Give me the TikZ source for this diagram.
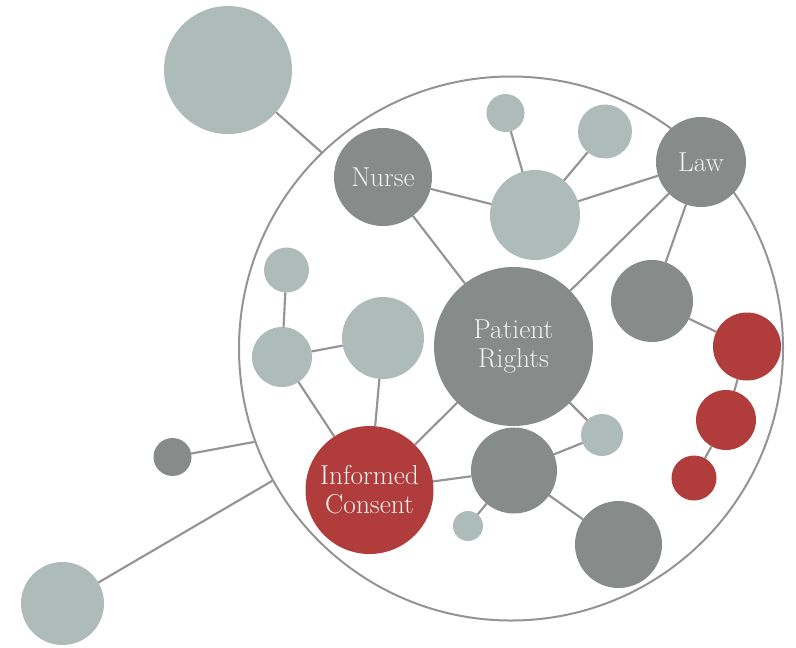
\documentclass[tikz,border=0pt]{standalone}
\usetikzlibrary{calc}

\definecolor{sage}{RGB}{173,188,184}
\definecolor{slate}{RGB}{135,140,139}
\definecolor{brick}{RGB}{176,60,60}
\definecolor{wire}{RGB}{148,148,152}

\begin{document}
\begin{tikzpicture}[x=0.75pt, y=-0.75pt,
    bubble/.style={circle, inner sep=0pt, outer sep=0pt, minimum size=#1*1.5pt},
    sagenode/.style={bubble=#1, fill=sage},
    slatenode/.style={bubble=#1, fill=slate},
    bricknode/.style={bubble=#1, fill=brick},
    caption/.style={text=white!95!black, align=center, font=\fontsize{20.5}{21.8}\selectfont},
    link/.style={draw=wire, line width=1.6pt}]
    \useasboundingbox (0,0) rectangle (796,647);
    % outer ring
    \node[circle, draw=wire, line width=1.5pt, inner sep=0pt, minimum size=544*0.75pt] (ring) at (511,348.5) {};
    % nodes outside the ring
    \node[sagenode=64] (far) at (228,70) {};
    \node[slatenode=19] (dot) at (172.5,457) {};
    \node[sagenode=41.5] (low) at (62.5,603.5) {};
    % nodes inside the ring
    \node[slatenode=79.5, caption] (rights) at (513.5,346.5) {Patient\\Rights};
    \node[slatenode=49, caption] (nurse) at (383,177) {Nurse};
    \node[slatenode=45, caption] (law) at (701,162) {Law};
    \node[bricknode=64, caption] (consent) at (369.5,490) {Informed\\Consent};
    \node[sagenode=45] (hub) at (535,215) {};
    \node[sagenode=19] (hubA) at (505.5,113) {};
    \node[sagenode=27] (hubB) at (605,131.5) {};
    \node[slatenode=41] (side) at (652,301) {};
    \node[bricknode=34] (redA) at (747,346.5) {};
    \node[bricknode=30] (redB) at (726,420) {};
    \node[bricknode=22.5] (redC) at (694,478) {};
    \node[sagenode=22.5] (leftA) at (286.5,270) {};
    \node[sagenode=30] (leftB) at (282,357) {};
    \node[sagenode=41] (leftC) at (383,338) {};
    \node[slatenode=43] (mid) at (514,470.5) {};
    \node[sagenode=21] (midA) at (602,435) {};
    \node[sagenode=15] (midB) at (468,526) {};
    \node[slatenode=43.5] (midC) at (618.5,544.5) {};
    % links to the ring
    \draw[link] (far) -- (ring.134.2);
    \draw[link] (dot) -- (ring.200.1);
    \draw[link] (low) -- (ring.209.3);
    % links inside the ring
    \draw[link] (nurse) -- (hub);
    \draw[link] (nurse) -- (rights);
    \draw[link] (hubA) -- (hub);
    \draw[link] (hubB) -- (hub);
    \draw[link] (law) -- (hub);
    \draw[link] (law) -- (rights);
    \draw[link] (law) -- (side);
    \draw[link] (side) -- (redA);
    \draw[link] (redA) -- (redB);
    \draw[link] (redB) -- (redC);
    \draw[link] (leftA) -- (leftB);
    \draw[link] (leftB) -- (leftC);
    \draw[link] (leftB) -- (consent);
    \draw[link] (leftC) -- (consent);
    \draw[link] (consent) -- (rights);
    \draw[link] (consent) -- (mid);
    \draw[link] (rights) -- (midA);
    \draw[link] (mid) -- (midA);
    \draw[link] (mid) -- (midB);
    \draw[link] (mid) -- (midC);
\end{tikzpicture}
\end{document}
